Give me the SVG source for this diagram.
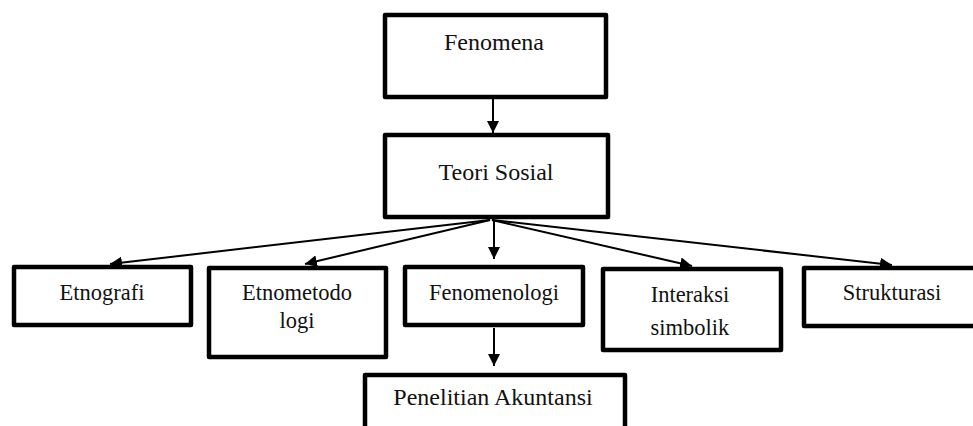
<svg xmlns="http://www.w3.org/2000/svg" width="973" height="426" viewBox="0 0 973 426">
<style>
.box{fill:#fff;stroke:#000;stroke-width:4.5;stroke-linejoin:round}
.t{font-family:"Liberation Serif","Times New Roman",serif;fill:#111;text-anchor:middle}
.lg{font-size:24px}
.sm{font-size:22.5px}
.c{fill:none;stroke:#000;stroke-width:2}
</style>
<defs>
<marker id="ah" markerWidth="12" markerHeight="12" viewBox="0 0 12 12" refX="12" refY="6" orient="auto" markerUnits="userSpaceOnUse">
<path d="M0,0 L12,6 L0,12 Z" fill="#000"/>
</marker>
</defs>
<g id="connectors">
<line class="c" x1="493" y1="99" x2="493" y2="133" marker-end="url(#ah)"/>
<line class="c" x1="490" y1="220" x2="110" y2="264" marker-end="url(#ah)"/>
<line class="c" x1="490" y1="220" x2="305" y2="264" marker-end="url(#ah)"/>
<line class="c" x1="494" y1="220" x2="494" y2="259" marker-end="url(#ah)"/>
<line class="c" x1="492" y1="220" x2="692" y2="266" marker-end="url(#ah)"/>
<line class="c" x1="492" y1="220" x2="892" y2="265" marker-end="url(#ah)"/>
<line class="c" x1="494" y1="328" x2="494" y2="366" marker-end="url(#ah)"/>
</g>
<g id="fenomena">
<rect class="box" x="385" y="15" width="221" height="82"/>
<text class="t lg" x="494" y="50">Fenomena</text>
</g>
<g id="teori-sosial">
<rect class="box" x="385" y="135" width="223" height="82"/>
<text class="t lg" x="496" y="180">Teori Sosial</text>
</g>
<g id="etnografi">
<rect class="box" x="14" y="267" width="177" height="58"/>
<text class="t sm" x="102" y="300">Etnografi</text>
</g>
<g id="etnometodologi">
<rect class="box" x="209" y="268" width="177" height="89"/>
<text class="t sm" x="297" y="300">Etnometodo</text>
<text class="t sm" x="297" y="328">logi</text>
</g>
<g id="fenomenologi">
<rect class="box" x="405" y="267" width="178" height="58"/>
<text class="t sm" x="494" y="300">Fenomenologi</text>
</g>
<g id="interaksi-simbolik">
<rect class="box" x="603" y="269" width="178" height="81"/>
<text class="t sm" x="690" y="302">Interaksi</text>
<text class="t sm" x="690" y="335">simbolik</text>
</g>
<g id="strukturasi">
<rect class="box" x="804" y="268" width="180" height="58"/>
<text class="t sm" x="892" y="300">Strukturasi</text>
</g>
<g id="penelitian-akuntansi">
<rect class="box" x="365" y="375" width="260" height="70"/>
<text class="t lg" x="493" y="405">Penelitian Akuntansi</text>
</g>
</svg>
